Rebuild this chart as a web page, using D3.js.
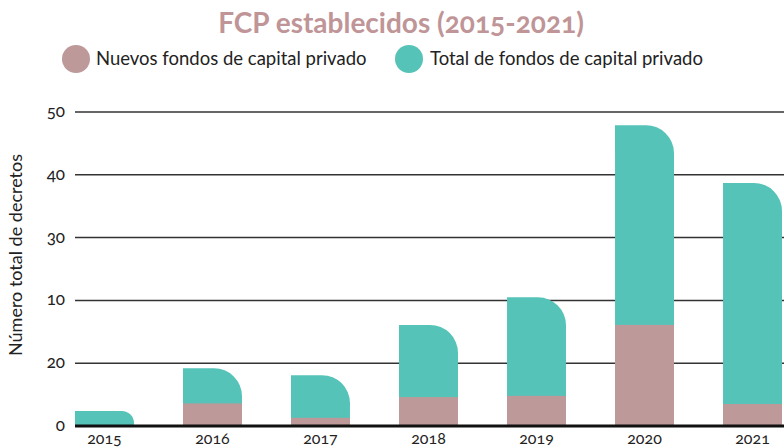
<!DOCTYPE html>
<html>
<head>
<meta charset="utf-8">
<script src="https://cdn.jsdelivr.net/npm/d3@7"></script>
<style>
  body { margin: 0; background: #fff; }
  svg text { font-family: "Lato", "Open Sans", sans-serif; }
  .num { font-variant-numeric: oldstyle-nums; font-feature-settings: "onum" 1; }
</style>
</head>
<body>
<div id="chart"></div>
<script>
// datos
const years = ["2015", "2016", "2017", "2018", "2019", "2020", "2021"];
const totalFondos = [2.4, 9.2, 8.1, 16.1, 20.5, 47.9, 38.7];
const nuevosFondos = [0, 3.6, 1.3, 4.6, 4.8, 16.1, 3.5];
const tickValues = [0, 10, 20, 30, 40, 50];
const tickLabels = ["0", "20", "10", "30", "40", "50"]; // tal como aparecen en el original
const seriesNames = ["Nuevos fondos de capital privado", "Total de fondos de capital privado"];

const W = 784, H = 448;
const colorNuevos = "#bd999a";
const colorTotal = "#56c3b8";

const svg = d3.select("#chart").append("svg")
    .attr("width", W)
    .attr("height", H);

// escalas
const x = d3.scaleBand()
    .domain(years)
    .range([75, 782])
    .paddingInner(0.454)
    .paddingOuter(0);

const y = d3.scaleLinear()
    .domain([0, 50])
    .range([426, 112]);

// título
svg.append("text")
    .attr("x", 401)
    .attr("y", 33)
    .attr("text-anchor", "middle")
    .attr("class", "num")
    .style("font-size", "28px")
    .style("font-weight", "bold")
    .style("fill", "#bf9597")
    .text("FCP establecidos (2015-2021)");

// leyenda
const legendPos = [{cx: 76, tx: 96}, {cx: 409, tx: 430}];
[colorNuevos, colorTotal].forEach((c, i) => {
    svg.append("circle")
        .attr("cx", legendPos[i].cx)
        .attr("cy", 59)
        .attr("r", 14)
        .attr("fill", c);
    svg.append("text")
        .attr("x", legendPos[i].tx)
        .attr("y", 65)
        .style("font-size", "18.5px")
        .style("fill", "#222")
        .text(seriesNames[i]);
});

// rejilla
svg.append("g")
    .selectAll("line")
    .data(tickValues.filter(d => d > 0))
    .join("line")
      .attr("x1", 75)
      .attr("x2", W)
      .attr("y1", d => y(d))
      .attr("y2", d => y(d))
      .attr("stroke", "#333")
      .attr("stroke-width", 1.5);

// etiquetas del eje Y
svg.append("g")
    .selectAll("text")
    .data(tickValues)
    .join("text")
      .attr("class", "num")
      .attr("x", 65)
      .attr("y", d => y(d) + 5)
      .attr("text-anchor", "end")
      .style("font-size", "17px")
      .style("fill", "#222")
      .text((d, i) => tickLabels[i]);

svg.append("text")
    .attr("transform", "translate(22,255) rotate(-90)")
    .attr("text-anchor", "middle")
    .style("font-size", "18px")
    .style("fill", "#222")
    .text("Número total de decretos");

// barras del total con esquina superior derecha redondeada
function roundedTop(d, i) {
    const x0 = x(years[i]), w = x.bandwidth();
    const y0 = y(0), y1 = y(d);
    const h = y0 - y1;
    const r = Math.min(28, h * 0.8, w);
    return `M${x0},${y0} V${y1} H${x0 + w - r} A${r},${r} 0 0 1 ${x0 + w},${y1 + r} V${y0} Z`;
}

svg.append("g")
    .selectAll("path")
    .data(totalFondos)
    .join("path")
      .attr("d", roundedTop)
      .attr("fill", colorTotal);

svg.append("g")
    .selectAll("rect")
    .data(nuevosFondos)
    .join("rect")
      .attr("x", (d, i) => x(years[i]))
      .attr("y", d => y(d))
      .attr("width", x.bandwidth())
      .attr("height", d => y(0) - y(d))
      .attr("fill", colorNuevos);

// línea base
svg.append("line")
    .attr("x1", 75)
    .attr("x2", W)
    .attr("y1", y(0))
    .attr("y2", y(0))
    .attr("stroke", "#111")
    .attr("stroke-width", 3);

// eje X
svg.append("g")
    .selectAll("text")
    .data(years)
    .join("text")
      .attr("class", "num")
      .attr("x", d => x(d) + x.bandwidth() / 2)
      .attr("y", 444)
      .attr("text-anchor", "middle")
      .style("font-size", "16px")
      .style("fill", "#222")
      .text(d => d);
</script>
</body>
</html>
